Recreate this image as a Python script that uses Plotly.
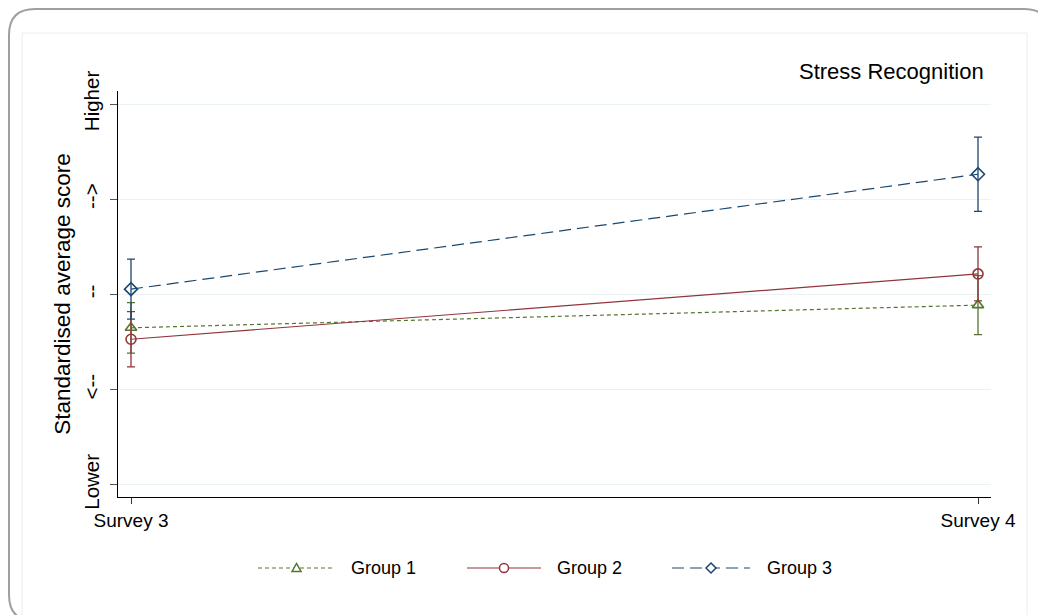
import plotly.graph_objects as go

# Survey waves and group estimates (standardised scores) with 95% CI half-widths
waves = [0, 1]
wave_labels = ["Survey 3", "Survey 4"]

group_names = ["Group 1", "Group 2", "Group 3"]
group1_mean = [-0.35, -0.112]
group1_ci = [0.265, 0.31]
group2_mean = [-0.47, 0.216]
group2_ci = [0.29, 0.284]
group3_mean = [0.056, 1.263]
group3_ci = [0.315, 0.39]

score_ticks = [-2, -1, 0, 1, 2]
score_labels = ["Lower", "<--", "--", "-->", "Higher"]

colors = ["#55752f", "#90353b", "#1a476f"]
dashes = ["4px,3px", "solid", "12px,6px"]
symbols = ["triangle-up-open", "circle-open", "diamond-open"]
means = [group1_mean, group2_mean, group3_mean]
cis = [group1_ci, group2_ci, group3_ci]

W, H = 1038, 615
L, R, T, B = 118, 991, 91, 497  # plot area in page pixels
FONT = "Liberation Sans, Arial, sans-serif"


def px(x):
    return (x - L) / (R - L)


def py(y):
    return (B - y) / (B - T)


def poly(points):
    return "M " + " L ".join(f"{px(a)},{py(b)}" for a, b in points) + " Z"


fig = go.Figure()

for name, m, c, col, d, s in zip(group_names, means, cis, colors, dashes, symbols):
    fig.add_trace(go.Scatter(
        x=waves, y=m, mode="lines+markers", name=name,
        line=dict(color=col, width=1.2, dash=d),
        marker=dict(symbol=s, size=10, color=col, line=dict(width=1.6, color=col)),
        error_y=dict(type="data", array=c, visible=True, color=col,
                     thickness=1.3, width=4),
        showlegend=False,
    ))

# legend keys drawn in page pixels below the chart
legend_y = 568
legend_items = [(258, 335, 349), (467, 541, 555), (672, 750, 765)]
shapes = []
annotations = []
for (x0, x1, xt), name, col, d, s in zip(legend_items, group_names, colors, dashes, symbols):
    shapes.append(dict(type="line", xref="paper", yref="paper",
                       x0=px(x0), x1=px(x1), y0=py(legend_y), y1=py(legend_y),
                       line=dict(color=col, width=1.2, dash=d)))
    cx, cy, k = (x0 + x1) / 2, legend_y, 4.5
    mk = dict(xref="paper", yref="paper", fillcolor="white",
              line=dict(color=col, width=1.5))
    if s.startswith("circle"):
        shapes.append(dict(type="circle", x0=px(cx - k), x1=px(cx + k),
                           y0=py(cy + k), y1=py(cy - k), **mk))
    elif s.startswith("triangle"):
        shapes.append(dict(type="path", path=poly([(cx - k, cy + 3.5), (cx + k, cy + 3.5), (cx, cy - 4.5)]), **mk))
    else:
        shapes.append(dict(type="path", path=poly([(cx, cy - 5), (cx + 5, cy), (cx, cy + 5), (cx - 5, cy)]), **mk))
    annotations.append(dict(text=name, xref="paper", yref="paper",
                            x=px(xt), y=py(legend_y), xanchor="left", yanchor="middle",
                            showarrow=False, font=dict(family=FONT, size=18, color="black")))

# outer rounded frame
r = 26
fx0, fy0, fx1, fy1 = 9, 9, 1050, 621
frame = (
    f"M {px(fx0)},{py(fy0 + r)} "
    f"Q {px(fx0)},{py(fy0)} {px(fx0 + r)},{py(fy0)} "
    f"L {px(fx1 - r)},{py(fy0)} "
    f"Q {px(fx1)},{py(fy0)} {px(fx1)},{py(fy0 + r)} "
    f"L {px(fx1)},{py(fy1 - r)} "
    f"Q {px(fx1)},{py(fy1)} {px(fx1 - r)},{py(fy1)} "
    f"L {px(fx0 + r)},{py(fy1)} "
    f"Q {px(fx0)},{py(fy1)} {px(fx0)},{py(fy1 - r)} Z"
)
shapes.insert(0, dict(type="path", xref="paper", yref="paper", path=frame,
                      line=dict(color="#a0a0a0", width=2), layer="below"))
# inner panel border
shapes.insert(1, dict(type="rect", xref="paper", yref="paper",
                      x0=px(22), x1=px(1027), y0=py(33), y1=py(640),
                      line=dict(color="#e6eef0", width=1), layer="below"))

annotations.append(dict(text="Stress Recognition", xref="paper", yref="paper",
                        x=px(986), y=py(72), xanchor="right", yanchor="middle",
                        showarrow=False, font=dict(family=FONT, size=22, color="black")))

fig.update_layout(
    width=W, height=H,
    margin=dict(l=L, r=W - R, t=T, b=H - B, pad=0),
    paper_bgcolor="white", plot_bgcolor="white",
    font=dict(family=FONT, size=19, color="black"),
    shapes=shapes, annotations=annotations,
    xaxis=dict(
        range=[-13 / 847, 1 + 13 / 847], tickvals=waves, ticktext=wave_labels,
        showline=True, linecolor="black", linewidth=1.2, mirror=False,
        ticks="outside", ticklen=6, tickcolor="#333", tickwidth=1,
        showgrid=False, zeroline=False, tickfont=dict(size=19),
    ),
    yaxis=dict(
        range=[-2.127, 2.137], tickvals=score_ticks, ticktext=score_labels,
        tickangle=-90, showline=True, linecolor="black", linewidth=1.2,
        ticks="outside", ticklen=7, tickcolor="#555", tickwidth=1,
        showgrid=True, gridcolor="#eaf2f3", gridwidth=1, zeroline=False,
        tickfont=dict(size=20.5), ticklabelstandoff=3,
        title=dict(text="Standardised average score", font=dict(size=22.5), standoff=2),
    ),
)

fig.write_html("out.html")
